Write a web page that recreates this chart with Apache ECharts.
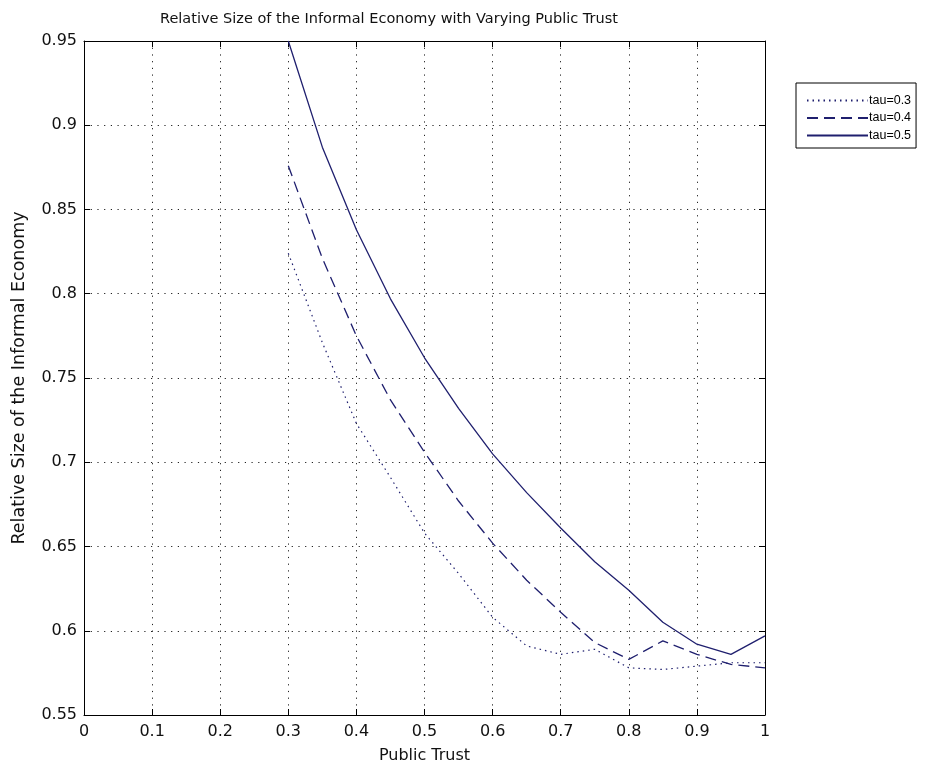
<!DOCTYPE html>
<html>
<head>
<meta charset="utf-8">
<script src="https://cdn.jsdelivr.net/npm/echarts@6/dist/echarts.min.js"></script>
<style>
html,body{margin:0;padding:0;background:#fff;}
#chart{width:940px;height:769px;}
</style>
</head>
<body>
<div id="chart"></div>
<script>
var publicTrust = [0.3, 0.35, 0.4, 0.45, 0.5, 0.55, 0.6, 0.65, 0.7, 0.75, 0.8, 0.85, 0.9, 0.95, 1.0];
var tau03 = [0.824, 0.771, 0.723, 0.691, 0.658, 0.634, 0.608, 0.591, 0.586, 0.589, 0.578, 0.577, 0.579, 0.581, 0.581];
var tau04 = [0.876, 0.821, 0.775, 0.737, 0.706, 0.677, 0.652, 0.630, 0.611, 0.593, 0.583, 0.594, 0.586, 0.580, 0.578];
var tau05 = [0.950, 0.887, 0.838, 0.797, 0.762, 0.732, 0.705, 0.682, 0.661, 0.641, 0.624, 0.605, 0.592, 0.586, 0.597];
var seriesNames = ['tau=0.3', 'tau=0.4', 'tau=0.5'];
var titleText = 'Relative Size of the Informal Economy with Varying Public Trust';
var xLabel = 'Public Trust';
var yLabel = 'Relative Size of the Informal Economy';

function pairs(ys){ return publicTrust.map(function(x,i){ return [x, ys[i]]; }); }

var FONT = 'DejaVu Sans, sans-serif';
var LFONT = 'Liberation Sans, Arial, sans-serif';
var LINE = '#1f1f6e';
var gridLine = {show:true, lineStyle:{color:'#222', width:1, type:[1.2,5.5]}};

var chart = echarts.init(document.getElementById('chart'), null, {renderer:'canvas'});
chart.setOption({
  backgroundColor:'#fff',
  animation:false,
  title:{text:titleText, left:155, top:7, textStyle:{fontFamily:FONT, fontSize:14.5, fontWeight:'normal', color:'#111'}},
  legend:{
    orient:'vertical', left:796, top:83,
    backgroundColor:'#fff', borderColor:'#000', borderWidth:1, borderRadius:0,
    padding:[11,5,6,10], itemWidth:61, itemHeight:14, itemGap:4.5,
    itemStyle:{opacity:0, borderWidth:0},
    textStyle:{fontFamily:LFONT, fontSize:12.5, color:'#000', padding:[0,0,0,-4]},
    data:seriesNames
  },
  grid:{left:84, right:175, top:41, bottom:52, containLabel:false},
  xAxis:[{
    type:'value', min:0, max:1, interval:0.1, position:'bottom',
    name:xLabel, nameLocation:'middle', nameGap:33,
    nameTextStyle:{fontFamily:FONT, fontSize:16, color:'#111'},
    axisLine:{show:true, onZero:false, lineStyle:{color:'#000', width:1}},
    axisTick:{show:true, inside:true, length:6, lineStyle:{color:'#000'}},
    axisLabel:{fontFamily:FONT, fontSize:16, color:'#111', margin:9},
    splitLine:gridLine
  },{
    type:'value', min:0, max:1, interval:0.1, position:'top',
    axisLine:{show:true, onZero:false, lineStyle:{color:'#000', width:1}},
    axisTick:{show:true, inside:true, length:6, lineStyle:{color:'#000'}},
    axisLabel:{show:false}, splitLine:{show:false}
  }],
  yAxis:[{
    type:'value', min:0.55, max:0.95, interval:0.05, position:'left',
    name:yLabel, nameLocation:'middle', nameGap:56,
    nameTextStyle:{fontFamily:FONT, fontSize:17.5, color:'#111'},
    axisLine:{show:true, onZero:false, lineStyle:{color:'#000', width:1}},
    axisTick:{show:true, inside:true, length:6, lineStyle:{color:'#000'}},
    axisLabel:{fontFamily:FONT, fontSize:16, color:'#111', margin:7,
      formatter:function(v){ return String(parseFloat(v.toFixed(2))); }},
    splitLine:gridLine
  },{
    type:'value', min:0.55, max:0.95, interval:0.05, position:'right',
    axisLine:{show:true, onZero:false, lineStyle:{color:'#000', width:1}},
    axisTick:{show:true, inside:true, length:6, lineStyle:{color:'#000'}},
    axisLabel:{show:false}, splitLine:{show:false}
  }],
  series:[
    {name:seriesNames[0], type:'line', data:pairs(tau03), showSymbol:false, symbol:'none', clip:false,
     lineStyle:{color:LINE, width:1.2, type:[1.5,4]}, itemStyle:{color:LINE}},
    {name:seriesNames[1], type:'line', data:pairs(tau04), showSymbol:false, symbol:'none', clip:false,
     lineStyle:{color:LINE, width:1.3, type:[11,6]}, itemStyle:{color:LINE}},
    {name:seriesNames[2], type:'line', data:pairs(tau05), showSymbol:false, symbol:'none', clip:false,
     lineStyle:{color:LINE, width:1.3, type:'solid'}, itemStyle:{color:LINE}}
  ]
});
</script>
</body>
</html>
